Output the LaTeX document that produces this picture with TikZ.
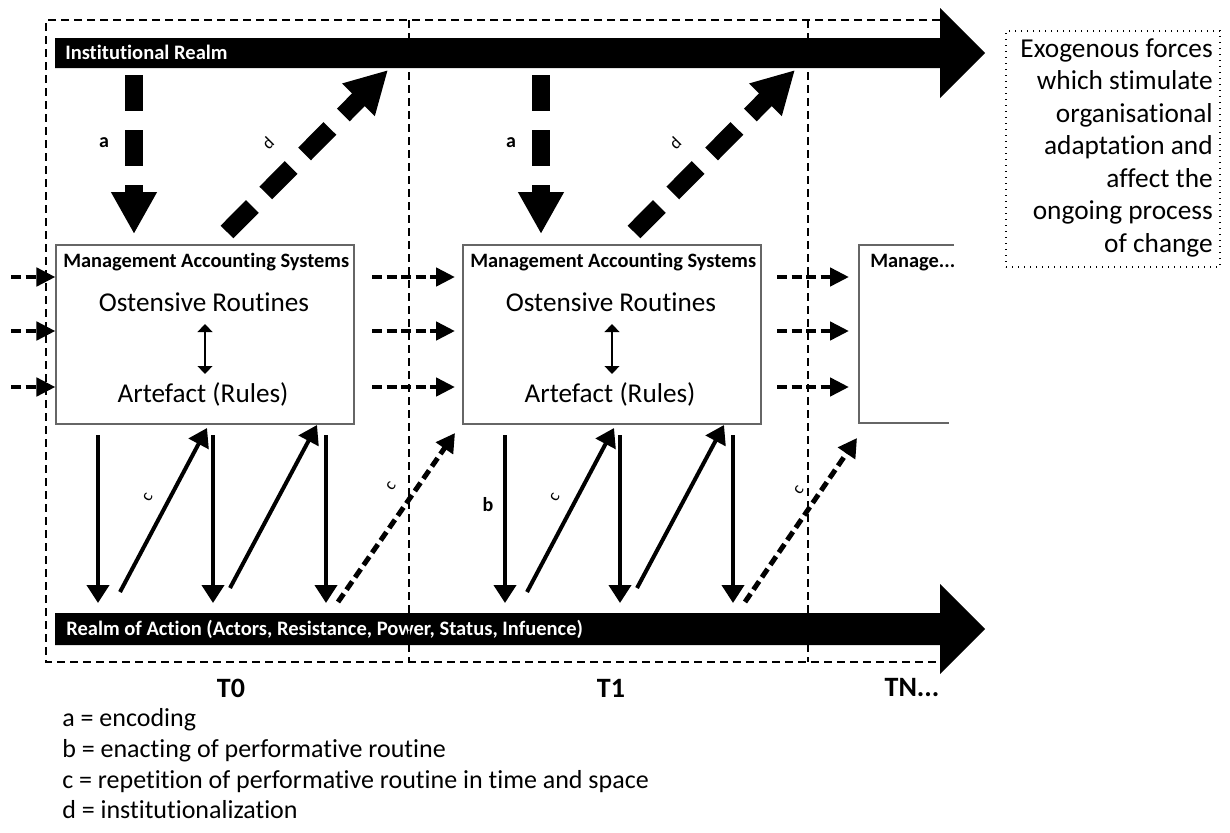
\documentclass[tikz,border=0pt]{standalone}
\usepackage{fontspec}
\setmainfont{Carlito}[Ligatures={NoCommon}]
\usetikzlibrary{arrows.meta}

\begin{document}
\begin{tikzpicture}[x=0.75pt, y=-0.75pt,
  framedash/.style={line width=1.5pt, dash pattern=on 6pt off 3.75pt},
  realmlabel/.style={text=white, font=\bfseries\fontsize{15.4}{18}\selectfont, inner sep=0pt, anchor=base west},
  masbox/.style={draw=black!60, line width=0.8pt, fill=white, minimum width=223.5pt, minimum height=134.25pt, inner sep=0pt},
  mastitle/.style={font=\bfseries\fontsize{15.3}{18}\selectfont, inner sep=0pt, anchor=base west},
  routine/.style={font=\fontsize{20.4}{24}\selectfont, inner sep=0pt, anchor=base},
  bigdash/.style={line width=13.5pt, dash pattern=on 27pt off 14.25pt, -{Triangle[width=32.25pt,length=31.5pt]}},
  flowdash/.style={line width=3.4pt, dash pattern=on 7.5pt off 3.4pt, -{Triangle[width=13.5pt,length=14.25pt]}},
  solidarr/.style={line width=3pt, -{Triangle[width=16.5pt,length=13.5pt]}},
  repdash/.style={line width=3.75pt, dash pattern=on 7.5pt off 3.75pt, -{Triangle[width=15pt,length=14pt]}},
  linkarr/.style={line width=1.5pt, {Triangle[width=11pt,length=6pt]}-{Triangle[width=11pt,length=6pt]}},
  keylabel/.style={font=\bfseries\fontsize{15}{18}\selectfont, inner sep=0pt},
  slantlabel/.style={font=\fontsize{13}{15}\selectfont, inner sep=0pt},
  period/.style={font=\bfseries\fontsize{21}{24}\selectfont, inner sep=0pt},
  legend/.style={font=\fontsize{19.5}{23}\selectfont, inner sep=0pt, anchor=base west},
  exobox/.style={draw, line width=1pt, dash pattern=on 0.9pt off 3.6pt, minimum width=160.5pt, minimum height=177pt, inner sep=0pt},
  exotext/.style={font=\fontsize{20.5}{24.4}\selectfont, align=right, inner sep=0pt, anchor=north east},
]
\useasboundingbox (0,0) rectangle (1230,832);

% time-period frame
\draw[framedash] (940,20) -- (46,20) -- (46,662) -- (940,662);

% the two realms
\fill (55,38) -- (940,38) -- (940,8) -- (985,53) -- (940,98) -- (940,68) -- (55,68) -- cycle;
\node[realmlabel] (inst) at (65,59) {Institutional Realm};
\fill (55,613) -- (940,613) -- (940,584) -- (985,629) -- (940,674) -- (940,645) -- (55,645) -- cycle;
\node[realmlabel] (action) at (66,635) {Realm of Action (Actors, Resistance, Power, Status, Infuence)};

% panel dividers
\draw[framedash] (409,20) -- (409,662);
\draw[framedash] (808,20) -- (808,662);

% periods T0 and T1
\foreach \i/\ox in {1/0,2/407}{
  \node[masbox] (mas\i) at (205+\ox,334.5) {};
  \node[mastitle] (mt\i) at (63+\ox,267) {Management Accounting Systems};
  \node[routine] (os\i) at (204+\ox,311) {Ostensive Routines};
  \node[routine] (ar\i) at (203+\ox,402) {Artefact (Rules)};
  \coordinate (lt\i) at (205+\ox,324);
  \coordinate (lb\i) at (205+\ox,374);
  \draw[linkarr] (lt\i) -- (lb\i);
  % encoding
  \coordinate (as\i) at (134+\ox,75);
  \coordinate (ae\i) at (134+\ox,234);
  \draw[bigdash] (as\i) -- (ae\i);
  \node[keylabel] (al\i) at (104+\ox,143) {a};
  % institutionalization
  \coordinate (ds\i) at (227+\ox,232);
  \coordinate (de\i) at (388+\ox,70);
  \draw[bigdash] (ds\i) -- (de\i);
  \node[slantlabel, rotate=45] (dl\i) at (268+\ox,143) {d};
  % enacting
  \foreach \k/\dx in {1/42,2/157,3/270}{
    \coordinate (vs\i\k) at (56+\dx+\ox,435);
    \coordinate (ve\i\k) at (56+\dx+\ox,603);
    \draw[solidarr] (vs\i\k) -- (ve\i\k);
  }
  % repetition
  \coordinate (cs\i1) at (120+\ox,592);
  \coordinate (ce\i1) at (207+\ox,428);
  \coordinate (cs\i2) at (230+\ox,588);
  \coordinate (ce\i2) at (317+\ox,425);
  \draw[solidarr] (cs\i1) -- (ce\i1);
  \draw[solidarr] (cs\i2) -- (ce\i2);
  \node[slantlabel, rotate=62] (cl\i) at (148+\ox,497) {c};
}

% period TN
\coordinate (tn1) at (954,245);
\coordinate (tn2) at (859,245);
\coordinate (tn3) at (859,423);
\coordinate (tn4) at (949,423);
\draw[draw=black!60, line width=0.8pt] (tn1) -- (tn2) -- (tn3) -- (tn4);
\node[mastitle] (mt3) at (870,267) {Manage...};

% repetition carried into the next period
\coordinate (rs1) at (338,602);
\coordinate (re1) at (455,433);
\draw[repdash] (rs1) -- (re1);
\node[slantlabel, rotate=55] (rl1) at (391,486) {c};
\coordinate (rs2) at (745,602);
\coordinate (re2) at (857,438);
\draw[repdash] (rs2) -- (re2);
\node[slantlabel, rotate=56] (rl2) at (799,490) {c};

\node[keylabel] (bl) at (488,505) {b};

% flows between periods
\foreach \y [count=\n] in {277,331,387}{
  \coordinate (fa\n) at (11,\y);
  \coordinate (fb\n) at (372,\y);
  \coordinate (fc\n) at (777,\y);
  \coordinate (fd\n) at (849,\y);
  \draw[flowdash] (fa\n) -- (mas1.west |- fa\n);
  \draw[flowdash] (fb\n) -- (455,\y);
  \draw[flowdash] (fc\n) -- (fd\n);
}

% period labels
\node[period] (t0) at (231,688) {T0};
\node[period] (t1) at (611,688) {T1};
\node[period] (tn) at (912,688) {TN...};

% key
\node[legend] (k1) at (62,726) {a = encoding};
\node[legend] (k2) at (62,757) {b = enacting of performative routine};
\node[legend] (k3) at (62,788) {c = repetition of performative routine in time and space};
\node[legend] (k4) at (62,818) {d = institutionalization};

% exogenous forces
\node[exobox] (exobox) at (1113,149) {};
\node[exotext] (exo) at (1213,38) {Exogenous forces\\which stimulate\\organisational\\adaptation and\\affect the\\ongoing process\\of change};
\end{tikzpicture}
\end{document}
